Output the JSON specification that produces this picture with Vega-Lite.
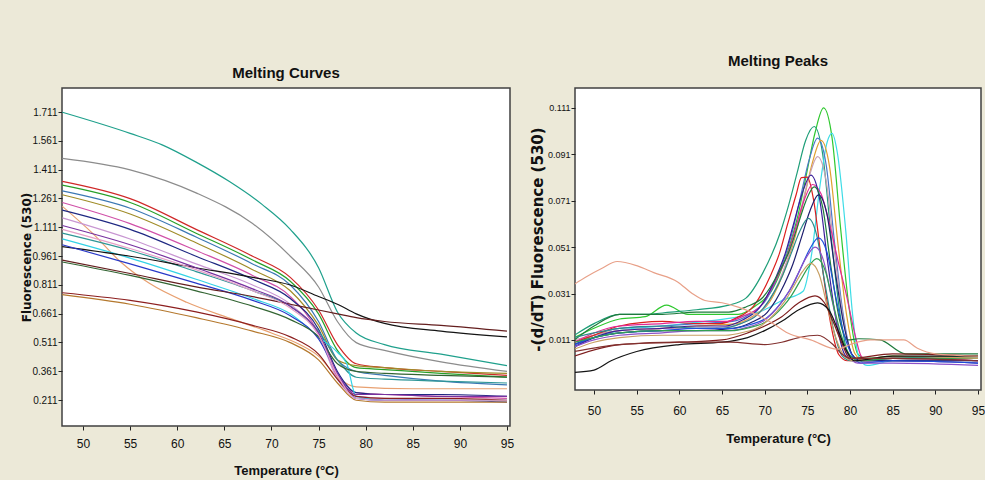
{
  "$schema": "https://vega.github.io/schema/vega-lite/v6.json",
  "background": "#ECE9D8",
  "padding": {"left": 19, "top": 53, "right": 0, "bottom": 2},
  "spacing": 14,
  "config": {
    "view": {"fill": "white", "stroke": "#404040", "strokeWidth": 1.5},
    "axis": {"grid": false, "domain": false, "tickColor": "#222222", "tickSize": 4, "labelColor": "#111111", "labelFont": "Liberation Sans", "labelFontSize": 10, "titleColor": "#111111"},
    "title": {"font": "Liberation Sans", "fontWeight": "bold", "fontSize": 15, "color": "#111111", "anchor": "middle"}
  },
  "datasets": {
    "melt": [
      {"s":"L01","t":47.8,"v":1.71},{"s":"L01","t":55,"v":1.60},{"s":"L01","t":58.4,"v":1.54},{"s":"L01","t":62,"v":1.45},{"s":"L01","t":65.5,"v":1.35},{"s":"L01","t":69,"v":1.23},{"s":"L01","t":72,"v":1.10},{"s":"L01","t":75,"v":0.90},{"s":"L01","t":77,"v":0.67},{"s":"L01","t":79,"v":0.56},{"s":"L01","t":82,"v":0.50},{"s":"L01","t":88,"v":0.45},{"s":"L01","t":95,"v":0.39},
      {"s":"L02","t":47.8,"v":1.47},{"s":"L02","t":55,"v":1.41},{"s":"L02","t":62,"v":1.29},{"s":"L02","t":68,"v":1.13},{"s":"L02","t":72,"v":0.96},{"s":"L02","t":75,"v":0.80},{"s":"L02","t":77,"v":0.62},{"s":"L02","t":79,"v":0.51},{"s":"L02","t":82,"v":0.47},{"s":"L02","t":88,"v":0.41},{"s":"L02","t":95,"v":0.36},
      {"s":"L03","t":47.8,"v":1.35},{"s":"L03","t":55,"v":1.26},{"s":"L03","t":62,"v":1.10},{"s":"L03","t":68,"v":0.96},{"s":"L03","t":72,"v":0.85},{"s":"L03","t":75,"v":0.68},{"s":"L03","t":77,"v":0.50},{"s":"L03","t":79,"v":0.40},{"s":"L03","t":82,"v":0.38},{"s":"L03","t":88,"v":0.36},{"s":"L03","t":95,"v":0.34},
      {"s":"L04","t":47.8,"v":1.33},{"s":"L04","t":55,"v":1.24},{"s":"L04","t":62,"v":1.08},{"s":"L04","t":68,"v":0.94},{"s":"L04","t":72,"v":0.83},{"s":"L04","t":75,"v":0.66},{"s":"L04","t":77,"v":0.47},{"s":"L04","t":79,"v":0.38},{"s":"L04","t":82,"v":0.37},{"s":"L04","t":88,"v":0.35},{"s":"L04","t":95,"v":0.33},
      {"s":"L05","t":47.8,"v":1.30},{"s":"L05","t":55,"v":1.21},{"s":"L05","t":62,"v":1.06},{"s":"L05","t":68,"v":0.92},{"s":"L05","t":72,"v":0.81},{"s":"L05","t":75,"v":0.62},{"s":"L05","t":77,"v":0.42},{"s":"L05","t":79,"v":0.36},{"s":"L05","t":82,"v":0.34},{"s":"L05","t":88,"v":0.31},{"s":"L05","t":95,"v":0.29},
      {"s":"L06","t":47.8,"v":1.28},{"s":"L06","t":55,"v":1.18},{"s":"L06","t":62,"v":1.03},{"s":"L06","t":68,"v":0.89},{"s":"L06","t":72,"v":0.78},{"s":"L06","t":75,"v":0.60},{"s":"L06","t":77,"v":0.42},{"s":"L06","t":79,"v":0.39},{"s":"L06","t":82,"v":0.38},{"s":"L06","t":88,"v":0.36},{"s":"L06","t":95,"v":0.35},
      {"s":"L07","t":47.8,"v":1.24},{"s":"L07","t":55,"v":1.13},{"s":"L07","t":62,"v":0.99},{"s":"L07","t":68,"v":0.86},{"s":"L07","t":72,"v":0.75},{"s":"L07","t":75,"v":0.56},{"s":"L07","t":77,"v":0.33},{"s":"L07","t":79,"v":0.25},{"s":"L07","t":82,"v":0.24},{"s":"L07","t":88,"v":0.23},{"s":"L07","t":95,"v":0.22},
      {"s":"L08","t":47.8,"v":1.22},{"s":"L08","t":51,"v":1.08},{"s":"L08","t":54,"v":0.93},{"s":"L08","t":57,"v":0.82},{"s":"L08","t":61,"v":0.72},{"s":"L08","t":66,"v":0.63},{"s":"L08","t":70,"v":0.56},{"s":"L08","t":73,"v":0.50},{"s":"L08","t":75,"v":0.44},{"s":"L08","t":77,"v":0.33},{"s":"L08","t":79,"v":0.28},{"s":"L08","t":85,"v":0.27},{"s":"L08","t":95,"v":0.27},
      {"s":"L09","t":47.8,"v":1.20},{"s":"L09","t":55,"v":1.10},{"s":"L09","t":62,"v":0.96},{"s":"L09","t":68,"v":0.84},{"s":"L09","t":72,"v":0.74},{"s":"L09","t":75,"v":0.58},{"s":"L09","t":77,"v":0.36},{"s":"L09","t":79,"v":0.25},{"s":"L09","t":82,"v":0.24},{"s":"L09","t":88,"v":0.24},{"s":"L09","t":95,"v":0.23},
      {"s":"L10","t":47.8,"v":1.16},{"s":"L10","t":55,"v":1.05},{"s":"L10","t":62,"v":0.92},{"s":"L10","t":68,"v":0.81},{"s":"L10","t":72,"v":0.71},{"s":"L10","t":75,"v":0.55},{"s":"L10","t":77,"v":0.32},{"s":"L10","t":79,"v":0.23},{"s":"L10","t":82,"v":0.22},{"s":"L10","t":88,"v":0.21},{"s":"L10","t":95,"v":0.21},
      {"s":"L11","t":47.8,"v":1.08},{"s":"L11","t":55,"v":0.99},{"s":"L11","t":62,"v":0.88},{"s":"L11","t":68,"v":0.78},{"s":"L11","t":72,"v":0.70},{"s":"L11","t":75,"v":0.57},{"s":"L11","t":77,"v":0.42},{"s":"L11","t":79,"v":0.33},{"s":"L11","t":82,"v":0.32},{"s":"L11","t":88,"v":0.31},{"s":"L11","t":95,"v":0.30},
      {"s":"L12","t":47.8,"v":1.05},{"s":"L12","t":55,"v":0.95},{"s":"L12","t":62,"v":0.84},{"s":"L12","t":68,"v":0.74},{"s":"L12","t":72,"v":0.66},{"s":"L12","t":75,"v":0.54},{"s":"L12","t":77,"v":0.46},{"s":"L12","t":78,"v":0.40},{"s":"L12","t":79,"v":0.23},{"s":"L12","t":82,"v":0.21},{"s":"L12","t":88,"v":0.21},{"s":"L12","t":95,"v":0.21},
      {"s":"L13","t":47.8,"v":1.01},{"s":"L13","t":55,"v":0.96},{"s":"L13","t":62,"v":0.90},{"s":"L13","t":68,"v":0.85},{"s":"L13","t":72,"v":0.81},{"s":"L13","t":75,"v":0.75},{"s":"L13","t":77,"v":0.71},{"s":"L13","t":79,"v":0.66},{"s":"L13","t":82,"v":0.61},{"s":"L13","t":88,"v":0.57},{"s":"L13","t":95,"v":0.54},
      {"s":"L14","t":47.8,"v":1.02},{"s":"L14","t":55,"v":0.92},{"s":"L14","t":62,"v":0.82},{"s":"L14","t":68,"v":0.73},{"s":"L14","t":72,"v":0.65},{"s":"L14","t":75,"v":0.53},{"s":"L14","t":77,"v":0.35},{"s":"L14","t":79,"v":0.22},{"s":"L14","t":82,"v":0.21},{"s":"L14","t":88,"v":0.21},{"s":"L14","t":95,"v":0.20},
      {"s":"L15","t":47.8,"v":0.94},{"s":"L15","t":55,"v":0.87},{"s":"L15","t":62,"v":0.80},{"s":"L15","t":68,"v":0.75},{"s":"L15","t":72,"v":0.71},{"s":"L15","t":75,"v":0.68},{"s":"L15","t":77,"v":0.66},{"s":"L15","t":79,"v":0.64},{"s":"L15","t":82,"v":0.62},{"s":"L15","t":88,"v":0.60},{"s":"L15","t":95,"v":0.57},
      {"s":"L16","t":47.8,"v":0.93},{"s":"L16","t":55,"v":0.86},{"s":"L16","t":62,"v":0.78},{"s":"L16","t":68,"v":0.70},{"s":"L16","t":72,"v":0.63},{"s":"L16","t":75,"v":0.54},{"s":"L16","t":77,"v":0.40},{"s":"L16","t":79,"v":0.36},{"s":"L16","t":82,"v":0.35},{"s":"L16","t":88,"v":0.34},{"s":"L16","t":95,"v":0.33},
      {"s":"L17","t":47.8,"v":0.77},{"s":"L17","t":55,"v":0.73},{"s":"L17","t":62,"v":0.67},{"s":"L17","t":68,"v":0.60},{"s":"L17","t":72,"v":0.54},{"s":"L17","t":75,"v":0.45},{"s":"L17","t":77,"v":0.32},{"s":"L17","t":79,"v":0.23},{"s":"L17","t":82,"v":0.22},{"s":"L17","t":88,"v":0.22},{"s":"L17","t":95,"v":0.21},
      {"s":"L18","t":47.8,"v":0.76},{"s":"L18","t":55,"v":0.71},{"s":"L18","t":62,"v":0.64},{"s":"L18","t":68,"v":0.57},{"s":"L18","t":72,"v":0.51},{"s":"L18","t":75,"v":0.42},{"s":"L18","t":77,"v":0.30},{"s":"L18","t":79,"v":0.21},{"s":"L18","t":82,"v":0.20},{"s":"L18","t":88,"v":0.20},{"s":"L18","t":95,"v":0.20},
      {"s":"L19","t":47.8,"v":1.12},{"s":"L19","t":55,"v":1.02},{"s":"L19","t":62,"v":0.90},{"s":"L19","t":68,"v":0.79},{"s":"L19","t":72,"v":0.70},{"s":"L19","t":75,"v":0.56},{"s":"L19","t":77,"v":0.35},{"s":"L19","t":79,"v":0.24},{"s":"L19","t":82,"v":0.24},{"s":"L19","t":88,"v":0.23},{"s":"L19","t":95,"v":0.23},
      {"s":"L20","t":47.8,"v":1.10},{"s":"L20","t":55,"v":1.00},{"s":"L20","t":62,"v":0.89},{"s":"L20","t":68,"v":0.78},{"s":"L20","t":72,"v":0.69},{"s":"L20","t":75,"v":0.55},{"s":"L20","t":77,"v":0.34},{"s":"L20","t":79,"v":0.22},{"s":"L20","t":82,"v":0.21},{"s":"L20","t":88,"v":0.21},{"s":"L20","t":95,"v":0.21}
    ],
    "peak": [
      {"s":"R01","t":47.7,"v":0.012},{"s":"R01","t":50,"v":0.016},{"s":"R01","t":53,"v":0.020},{"s":"R01","t":56,"v":0.021},{"s":"R01","t":58.5,"v":0.026},{"s":"R01","t":61,"v":0.022},{"s":"R01","t":64,"v":0.022},{"s":"R01","t":66.9,"v":0.022},{"s":"R01","t":68.9,"v":0.0256},{"s":"R01","t":70.9,"v":0.0327},{"s":"R01","t":72.9,"v":0.0514},{"s":"R01","t":73.9,"v":0.0647},{"s":"R01","t":74.9,"v":0.0825},{"s":"R01","t":75.9,"v":0.1003},{"s":"R01","t":76.9,"v":0.111},{"s":"R01","t":77.9,"v":0.098},{"s":"R01","t":78.9,"v":0.059},{"s":"R01","t":79.9,"v":0.0246},{"s":"R01","t":80.9,"v":0.005},{"s":"R01","t":81.9,"v":0.003},{"s":"R01","t":85,"v":0.004},{"s":"R01","t":90,"v":0.003},{"s":"R01","t":95,"v":0.004},
      {"s":"R02","t":47.7,"v":0.013},{"s":"R02","t":50,"v":0.018},{"s":"R02","t":53,"v":0.022},{"s":"R02","t":56,"v":0.022},{"s":"R02","t":59,"v":0.023},{"s":"R02","t":62,"v":0.024},{"s":"R02","t":65.8,"v":0.026},{"s":"R02","t":67.8,"v":0.029},{"s":"R02","t":69.8,"v":0.040},{"s":"R02","t":71.8,"v":0.057},{"s":"R02","t":72.8,"v":0.069},{"s":"R02","t":73.8,"v":0.083},{"s":"R02","t":74.8,"v":0.097},{"s":"R02","t":75.8,"v":0.103},{"s":"R02","t":76.8,"v":0.091},{"s":"R02","t":77.8,"v":0.055},{"s":"R02","t":78.8,"v":0.023},{"s":"R02","t":79.8,"v":0.005},{"s":"R02","t":80.8,"v":0.003},{"s":"R02","t":85,"v":0.003},{"s":"R02","t":95,"v":0.003},
      {"s":"R03","t":47.7,"v":0.008},{"s":"R03","t":50,"v":0.012},{"s":"R03","t":53,"v":0.015},{"s":"R03","t":58,"v":0.017},{"s":"R03","t":63,"v":0.019},{"s":"R03","t":67,"v":0.021},{"s":"R03","t":70,"v":0.024},{"s":"R03","t":72,"v":0.028},{"s":"R03","t":74.5,"v":0.032},{"s":"R03","t":75.5,"v":0.048},{"s":"R03","t":76.5,"v":0.078},{"s":"R03","t":77.3,"v":0.096},{"s":"R03","t":77.9,"v":0.100},{"s":"R03","t":78.5,"v":0.092},{"s":"R03","t":79.5,"v":0.058},{"s":"R03","t":80.3,"v":0.022},{"s":"R03","t":81,"v":0.004},{"s":"R03","t":82,"v":0.000},{"s":"R03","t":85,"v":0.002},{"s":"R03","t":95,"v":0.003},
      {"s":"R04","t":47.7,"v":0.009},{"s":"R04","t":50,"v":0.013},{"s":"R04","t":53,"v":0.016},{"s":"R04","t":58,"v":0.017},{"s":"R04","t":62,"v":0.018},{"s":"R04","t":66.2,"v":0.019},{"s":"R04","t":68.2,"v":0.022},{"s":"R04","t":70.2,"v":0.0285},{"s":"R04","t":72.2,"v":0.045},{"s":"R04","t":73.2,"v":0.057},{"s":"R04","t":74.2,"v":0.0727},{"s":"R04","t":75.2,"v":0.0885},{"s":"R04","t":76.2,"v":0.098},{"s":"R04","t":77.2,"v":0.0866},{"s":"R04","t":78.2,"v":0.0524},{"s":"R04","t":79.2,"v":0.022},{"s":"R04","t":80.2,"v":0.0049},{"s":"R04","t":81.2,"v":0.002},{"s":"R04","t":85,"v":0.002},{"s":"R04","t":95,"v":0.002},
      {"s":"R05","t":47.7,"v":0.010},{"s":"R05","t":50,"v":0.013},{"s":"R05","t":53,"v":0.015},{"s":"R05","t":58,"v":0.016},{"s":"R05","t":62,"v":0.017},{"s":"R05","t":66.6,"v":0.018},{"s":"R05","t":68.6,"v":0.0212},{"s":"R05","t":70.6,"v":0.0275},{"s":"R05","t":72.6,"v":0.044},{"s":"R05","t":73.6,"v":0.056},{"s":"R05","t":74.6,"v":0.0717},{"s":"R05","t":75.6,"v":0.0875},{"s":"R05","t":76.6,"v":0.097},{"s":"R05","t":77.6,"v":0.0857},{"s":"R05","t":78.6,"v":0.0519},{"s":"R05","t":79.6,"v":0.0218},{"s":"R05","t":80.6,"v":0.0049},{"s":"R05","t":81.6,"v":0.002},{"s":"R05","t":85,"v":0.003},{"s":"R05","t":95,"v":0.002},
      {"s":"R06","t":47.7,"v":0.011},{"s":"R06","t":50,"v":0.013},{"s":"R06","t":53,"v":0.015},{"s":"R06","t":58,"v":0.016},{"s":"R06","t":62,"v":0.016},{"s":"R06","t":66.2,"v":0.017},{"s":"R06","t":68.2,"v":0.0199},{"s":"R06","t":70.2,"v":0.0259},{"s":"R06","t":72.2,"v":0.041},{"s":"R06","t":73.2,"v":0.052},{"s":"R06","t":74.2,"v":0.0666},{"s":"R06","t":75.2,"v":0.0812},{"s":"R06","t":76.2,"v":0.090},{"s":"R06","t":77.2,"v":0.0796},{"s":"R06","t":78.2,"v":0.0482},{"s":"R06","t":79.2,"v":0.0202},{"s":"R06","t":80.2,"v":0.0047},{"s":"R06","t":81.2,"v":0.002},{"s":"R06","t":85,"v":0.003},{"s":"R06","t":95,"v":0.002},
      {"s":"R07","t":47.7,"v":0.010},{"s":"R07","t":50,"v":0.013},{"s":"R07","t":53,"v":0.017},{"s":"R07","t":58,"v":0.019},{"s":"R07","t":62,"v":0.018},{"s":"R07","t":64.7,"v":0.018},{"s":"R07","t":66.7,"v":0.0205},{"s":"R07","t":68.7,"v":0.0256},{"s":"R07","t":70.7,"v":0.0389},{"s":"R07","t":71.7,"v":0.048},{"s":"R07","t":72.7,"v":0.0611},{"s":"R07","t":73.7,"v":0.0738},{"s":"R07","t":74.3,"v":0.081},{"s":"R07","t":75,"v":0.0812},{"s":"R07","t":75.7,"v":0.072},{"s":"R07","t":76.7,"v":0.0438},{"s":"R07","t":77.7,"v":0.0187},{"s":"R07","t":78.7,"v":0.0046},{"s":"R07","t":79.7,"v":0.002},{"s":"R07","t":85,"v":0.003},{"s":"R07","t":95,"v":0.003},
      {"s":"R08","t":47.7,"v":0.010},{"s":"R08","t":50,"v":0.014},{"s":"R08","t":53,"v":0.017},{"s":"R08","t":58,"v":0.018},{"s":"R08","t":62,"v":0.019},{"s":"R08","t":65.6,"v":0.019},{"s":"R08","t":67.6,"v":0.0214},{"s":"R08","t":69.6,"v":0.0259},{"s":"R08","t":71.6,"v":0.039},{"s":"R08","t":72.6,"v":0.047},{"s":"R08","t":73.6,"v":0.059},{"s":"R08","t":74.6,"v":0.071},{"s":"R08","t":75.6,"v":0.078},{"s":"R08","t":76.6,"v":0.074},{"s":"R08","t":77.6,"v":0.061},{"s":"R08","t":78.6,"v":0.045},{"s":"R08","t":79.6,"v":0.030},{"s":"R08","t":80.6,"v":0.013},{"s":"R08","t":81.3,"v":0.004},{"s":"R08","t":82,"v":0.002},{"s":"R08","t":85,"v":0.003},{"s":"R08","t":95,"v":0.002},
      {"s":"R09","t":47.7,"v":0.008},{"s":"R09","t":50,"v":0.012},{"s":"R09","t":53,"v":0.015},{"s":"R09","t":58,"v":0.016},{"s":"R09","t":62,"v":0.017},{"s":"R09","t":65.4,"v":0.017},{"s":"R09","t":67.4,"v":0.0196},{"s":"R09","t":69.4,"v":0.0249},{"s":"R09","t":71.4,"v":0.0387},{"s":"R09","t":72.4,"v":0.0482},{"s":"R09","t":73.4,"v":0.0612},{"s":"R09","t":74.4,"v":0.0742},{"s":"R09","t":75.4,"v":0.082},{"s":"R09","t":76.4,"v":0.0725},{"s":"R09","t":77.4,"v":0.0441},{"s":"R09","t":78.4,"v":0.0188},{"s":"R09","t":79.4,"v":0.0046},{"s":"R09","t":80.4,"v":0.002},{"s":"R09","t":85,"v":0.002},{"s":"R09","t":95,"v":0.001},
      {"s":"R10","t":47.7,"v":0.011},{"s":"R10","t":50,"v":0.017},{"s":"R10","t":53,"v":0.022},{"s":"R10","t":58,"v":0.022},{"s":"R10","t":62,"v":0.023},{"s":"R10","t":65.8,"v":0.023},{"s":"R10","t":67.8,"v":0.0252},{"s":"R10","t":69.8,"v":0.0294},{"s":"R10","t":71.8,"v":0.041},{"s":"R10","t":72.8,"v":0.0486},{"s":"R10","t":73.8,"v":0.0594},{"s":"R10","t":74.8,"v":0.0706},{"s":"R10","t":75.8,"v":0.077},{"s":"R10","t":76.8,"v":0.0681},{"s":"R10","t":77.8,"v":0.0416},{"s":"R10","t":78.8,"v":0.0192},{"s":"R10","t":79.8,"v":0.011},{"s":"R10","t":81,"v":0.0115},{"s":"R10","t":83.5,"v":0.011},{"s":"R10","t":86.5,"v":0.005},{"s":"R10","t":90,"v":0.005},{"s":"R10","t":95,"v":0.005},
      {"s":"R11","t":47.7,"v":0.009},{"s":"R11","t":50,"v":0.012},{"s":"R11","t":53,"v":0.014},{"s":"R11","t":58,"v":0.015},{"s":"R11","t":62,"v":0.015},{"s":"R11","t":66.3,"v":0.016},{"s":"R11","t":68.3,"v":0.0183},{"s":"R11","t":70.3,"v":0.0229},{"s":"R11","t":72.3,"v":0.035},{"s":"R11","t":73.3,"v":0.0436},{"s":"R11","t":74.3,"v":0.0551},{"s":"R11","t":75.3,"v":0.0666},{"s":"R11","t":76.3,"v":0.0735},{"s":"R11","t":77.3,"v":0.0651},{"s":"R11","t":78.3,"v":0.0396},{"s":"R11","t":79.3,"v":0.0171},{"s":"R11","t":80.3,"v":0.0044},{"s":"R11","t":81.3,"v":0.002},{"s":"R11","t":85,"v":0.002},{"s":"R11","t":95,"v":0.002},
      {"s":"R12","t":47.7,"v":0.012},{"s":"R12","t":50,"v":0.014},{"s":"R12","t":53,"v":0.016},{"s":"R12","t":58,"v":0.017},{"s":"R12","t":62,"v":0.016},{"s":"R12","t":65.1,"v":0.016},{"s":"R12","t":67.1,"v":0.0179},{"s":"R12","t":69.1,"v":0.0217},{"s":"R12","t":71.1,"v":0.0316},{"s":"R12","t":72.1,"v":0.0388},{"s":"R12","t":73.1,"v":0.0482},{"s":"R12","t":74.1,"v":0.0577},{"s":"R12","t":75.1,"v":0.0634},{"s":"R12","t":76.1,"v":0.0561},{"s":"R12","t":77.1,"v":0.0344},{"s":"R12","t":78.1,"v":0.015},{"s":"R12","t":79.1,"v":0.004},{"s":"R12","t":80.1,"v":0.002},{"s":"R12","t":85,"v":0.003},{"s":"R12","t":95,"v":0.004},
      {"s":"R13","t":47.7,"v":0.009},{"s":"R13","t":50,"v":0.012},{"s":"R13","t":53,"v":0.014},{"s":"R13","t":58,"v":0.015},{"s":"R13","t":62,"v":0.016},{"s":"R13","t":66.3,"v":0.016},{"s":"R13","t":68.3,"v":0.0176},{"s":"R13","t":70.3,"v":0.0207},{"s":"R13","t":72.3,"v":0.0289},{"s":"R13","t":73.3,"v":0.0347},{"s":"R13","t":74.3,"v":0.0425},{"s":"R13","t":75.3,"v":0.0503},{"s":"R13","t":76.3,"v":0.055},{"s":"R13","t":77.3,"v":0.0488},{"s":"R13","t":78.3,"v":0.0301},{"s":"R13","t":79.3,"v":0.0134},{"s":"R13","t":80.3,"v":0.004},{"s":"R13","t":81.3,"v":0.001},{"s":"R13","t":85,"v":0.002},{"s":"R13","t":95,"v":0.001},
      {"s":"R14","t":47.7,"v":0.008},{"s":"R14","t":50,"v":0.011},{"s":"R14","t":53,"v":0.013},{"s":"R14","t":58,"v":0.014},{"s":"R14","t":62,"v":0.015},{"s":"R14","t":65.9,"v":0.015},{"s":"R14","t":67.9,"v":0.0164},{"s":"R14","t":69.9,"v":0.0193},{"s":"R14","t":71.9,"v":0.0269},{"s":"R14","t":72.9,"v":0.0323},{"s":"R14","t":73.9,"v":0.0395},{"s":"R14","t":74.9,"v":0.0467},{"s":"R14","t":75.9,"v":0.051},{"s":"R14","t":76.9,"v":0.0452},{"s":"R14","t":77.9,"v":0.0279},{"s":"R14","t":78.9,"v":0.0124},{"s":"R14","t":79.9,"v":0.0039},{"s":"R14","t":80.9,"v":0.001},{"s":"R14","t":85,"v":0.001},{"s":"R14","t":95,"v":0.000},
      {"s":"R15","t":47.7,"v":0.010},{"s":"R15","t":50,"v":0.012},{"s":"R15","t":53,"v":0.014},{"s":"R15","t":58,"v":0.015},{"s":"R15","t":62,"v":0.015},{"s":"R15","t":66.1,"v":0.015},{"s":"R15","t":68.1,"v":0.0162},{"s":"R15","t":70.1,"v":0.0187},{"s":"R15","t":72.1,"v":0.0252},{"s":"R15","t":73.1,"v":0.0299},{"s":"R15","t":74.1,"v":0.0361},{"s":"R15","t":75.1,"v":0.0423},{"s":"R15","t":76.1,"v":0.046},{"s":"R15","t":77.1,"v":0.0408},{"s":"R15","t":78.1,"v":0.0254},{"s":"R15","t":79.1,"v":0.0116},{"s":"R15","t":80.1,"v":0.0039},{"s":"R15","t":81.1,"v":0.002},{"s":"R15","t":85,"v":0.003},{"s":"R15","t":95,"v":0.003},
      {"s":"R16","t":47.7,"v":0.007},{"s":"R16","t":50,"v":0.010},{"s":"R16","t":53,"v":0.012},{"s":"R16","t":58,"v":0.013},{"s":"R16","t":62,"v":0.013},{"s":"R16","t":65.4,"v":0.013},{"s":"R16","t":67.4,"v":0.0142},{"s":"R16","t":69.4,"v":0.0167},{"s":"R16","t":71.4,"v":0.0232},{"s":"R16","t":72.4,"v":0.0279},{"s":"R16","t":73.4,"v":0.0341},{"s":"R16","t":74.4,"v":0.0403},{"s":"R16","t":75.4,"v":0.044},{"s":"R16","t":76.4,"v":0.0391},{"s":"R16","t":77.4,"v":0.0244},{"s":"R16","t":78.4,"v":0.0112},{"s":"R16","t":79.4,"v":0.0038},{"s":"R16","t":80.4,"v":0.002},{"s":"R16","t":85,"v":0.004},{"s":"R16","t":95,"v":0.003},
      {"s":"R17","t":47.7,"v":0.004},{"s":"R17","t":53,"v":0.009},{"s":"R17","t":60,"v":0.010},{"s":"R17","t":65,"v":0.011},{"s":"R17","t":68,"v":0.014},{"s":"R17","t":70,"v":0.017},{"s":"R17","t":72,"v":0.021},{"s":"R17","t":74,"v":0.027},{"s":"R17","t":75.9,"v":0.030},{"s":"R17","t":77,"v":0.027},{"s":"R17","t":78,"v":0.019},{"s":"R17","t":79,"v":0.010},{"s":"R17","t":80,"v":0.003},{"s":"R17","t":85,"v":0.005},{"s":"R17","t":95,"v":0.004},
      {"s":"R18","t":47.7,"v":-0.003},{"s":"R18","t":50,"v":-0.002},{"s":"R18","t":52,"v":0.002},{"s":"R18","t":55,"v":0.006},{"s":"R18","t":60,"v":0.009},{"s":"R18","t":65,"v":0.010},{"s":"R18","t":68,"v":0.012},{"s":"R18","t":70,"v":0.015},{"s":"R18","t":72,"v":0.019},{"s":"R18","t":74,"v":0.024},{"s":"R18","t":76.2,"v":0.027},{"s":"R18","t":77.5,"v":0.024},{"s":"R18","t":78.5,"v":0.016},{"s":"R18","t":79.5,"v":0.007},{"s":"R18","t":80.5,"v":0.002},{"s":"R18","t":85,"v":0.004},{"s":"R18","t":95,"v":0.004},
      {"s":"R19","t":47.7,"v":0.006},{"s":"R19","t":53,"v":0.009},{"s":"R19","t":60,"v":0.010},{"s":"R19","t":66,"v":0.010},{"s":"R19","t":70,"v":0.009},{"s":"R19","t":72,"v":0.010},{"s":"R19","t":74,"v":0.012},{"s":"R19","t":76.2,"v":0.013},{"s":"R19","t":78,"v":0.009},{"s":"R19","t":79,"v":0.005},{"s":"R19","t":80,"v":0.003},{"s":"R19","t":85,"v":0.003},{"s":"R19","t":95,"v":0.002},
      {"s":"R20","t":47.7,"v":0.035},{"s":"R20","t":49,"v":0.038},{"s":"R20","t":51,"v":0.042},{"s":"R20","t":52.7,"v":0.0448},{"s":"R20","t":55,"v":0.043},{"s":"R20","t":57,"v":0.040},{"s":"R20","t":59.8,"v":0.036},{"s":"R20","t":61.5,"v":0.031},{"s":"R20","t":63,"v":0.028},{"s":"R20","t":65,"v":0.027},{"s":"R20","t":67,"v":0.025},{"s":"R20","t":69,"v":0.022},{"s":"R20","t":71,"v":0.018},{"s":"R20","t":72.7,"v":0.014},{"s":"R20","t":75.4,"v":0.011},{"s":"R20","t":78.5,"v":0.007},{"s":"R20","t":80,"v":0.009},{"s":"R20","t":82.4,"v":0.011},{"s":"R20","t":86.3,"v":0.011},{"s":"R20","t":87.9,"v":0.0074},{"s":"R20","t":90,"v":0.005},{"s":"R20","t":95,"v":0.004}
    ]
  },
  "resolve": {"scale": {"color": "independent", "x": "independent", "y": "independent"}},
  "hconcat": [
    {
      "width": 448,
      "height": 338,
      "data": {"name": "melt"},
      "title": {"text": "Melting Curves", "offset": 7},
      "mark": {"type": "line", "strokeWidth": 1.2, "interpolate": "monotone", "clip": true},
      "encoding": {
        "x": {"field": "t", "type": "quantitative", "scale": {"domain": [47.77, 95.32], "nice": false, "zero": false},
          "axis": {"values": [50, 55, 60, 65, 70, 75, 80, 85, 90, 95], "labelFontSize": 12, "labelPadding": 8, "title": "Temperature (°C)", "titleFont": "Liberation Sans", "titleFontSize": 13, "titleFontWeight": "bold", "titleY": 44, "titleBaseline": "middle"}},
        "y": {"field": "v", "type": "quantitative", "scale": {"domain": [0.076, 1.836], "nice": false, "zero": false},
          "axis": {"values": [0.211, 0.361, 0.511, 0.661, 0.811, 0.961, 1.111, 1.261, 1.411, 1.561, 1.711], "format": ".3f", "labelPadding": 1, "title": "Fluorescence (530)", "titleFont": "DejaVu Sans", "titleFontSize": 12, "titleFontWeight": "bold", "titleX": -29}},
        "color": {"field": "s", "type": "nominal", "legend": null,
          "scale": {"domain": ["L01","L02","L03","L04","L05","L06","L07","L08","L09","L10","L11","L12","L13","L14","L15","L16","L17","L18","L19","L20"],
            "range": ["#1FA08C","#8C8C8C","#D02828","#28A028","#3C78B4","#A08C28","#D050A8","#E8A070","#1E2882","#C896D2","#2E9696","#32D2E6","#141414","#2838C8","#641E1E","#326432","#8C1E1E","#B4782D","#7832A0","#E6A0C8"]}}
      }
    },
    {
      "width": 406,
      "height": 302,
      "data": {"name": "peak"},
      "title": {"text": "Melting Peaks", "offset": 19},
      "mark": {"type": "line", "strokeWidth": 1.2, "interpolate": "monotone", "clip": true},
      "encoding": {
        "x": {"field": "t", "type": "quantitative", "scale": {"domain": [47.77, 95.35], "nice": false, "zero": false},
          "axis": {"values": [50, 55, 60, 65, 70, 75, 80, 85, 90, 95], "labelFontSize": 12, "labelPadding": 11, "title": "Temperature (°C)", "titleFont": "Liberation Sans", "titleFontSize": 13, "titleFontWeight": "bold", "titleY": 48, "titleBaseline": "middle"}},
        "y": {"field": "v", "type": "quantitative", "scale": {"domain": [-0.0106, 0.1196], "nice": false, "zero": false},
          "axis": {"values": [0.011, 0.031, 0.051, 0.071, 0.091, 0.111], "format": ".3f", "labelFontSize": 9, "labelPadding": 1, "title": "-(d/dT) Fluorescence (530)", "titleFont": "DejaVu Sans", "titleFontSize": 15, "titleFontWeight": "bold", "titleX": -30}},
        "color": {"field": "s", "type": "nominal", "legend": null,
          "scale": {"domain": ["R01","R02","R03","R04","R05","R06","R07","R08","R09","R10","R11","R12","R13","R14","R15","R16","R17","R18","R19","R20"],
            "range": ["#2EC82E","#1E9E78","#3CDCE6","#4A78C8","#E0A030","#C8A0B4","#DC1E1E","#E02896","#3A1E9A","#1E7A3C","#1E1E6E","#2E8A8A","#1E50DC","#8C50C8","#32A050","#C8A064","#7E1E1E","#141414","#82302E","#E8A088"]}}
      }
    }
  ]
}
